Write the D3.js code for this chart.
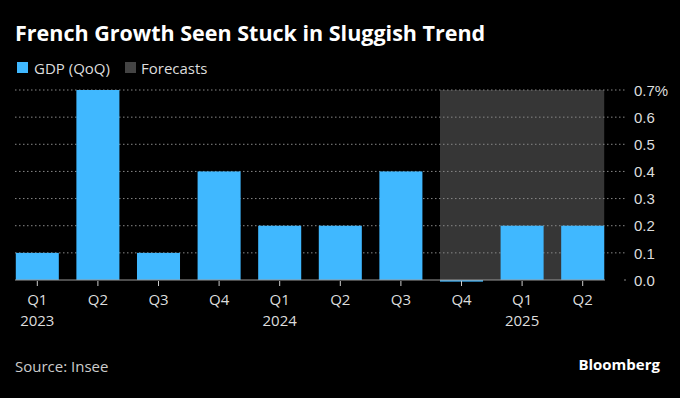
<!DOCTYPE html>
<html>
<head>
<meta charset="utf-8">
<script src="https://cdn.jsdelivr.net/npm/d3@7"></script>
<style>
  body { margin: 0; background: #000; }
  svg { display: block; font-family: "Open Sans", "Noto Sans", sans-serif; }
  .title { font-size: 21.5px; font-weight: 700; fill: #fff; }
  .legtext { font-size: 15px; fill: #ddd; }
  .axis text { font-size: 15px; fill: #ddd; }
  .source { font-size: 15px; fill: #ccc; }
  .brand { font-size: 15px; font-weight: 700; fill: #fff; }
</style>
</head>
<body>
<div id="main_div"></div>
<script>
/** data **/
const quarters = ["Q1", "Q2", "Q3", "Q4", "Q1", "Q2", "Q3", "Q4", "Q1", "Q2"];
const years = ["2023", "", "", "", "2024", "", "", "", "2025", ""];
const gdp = [0.1, 0.7, 0.1, 0.4, 0.2, 0.2, 0.4, -0.006, 0.2, 0.2];
const forecastFrom = 7, forecastTo = 9;
const yTicks = [0, 0.1, 0.2, 0.3, 0.4, 0.5, 0.6, 0.7];

const W = 680, H = 398;
const blue = "#40b8ff", shade = "#363636";

let svg = d3.select("#main_div").append("svg")
    .attr("width", W).attr("height", H);

svg.append("rect").attr("width", W).attr("height", H).attr("fill", "#000");

let idx = d3.range(gdp.length);
let xScale = d3.scaleBand().domain(idx).range([7, 613]).paddingInner(0.29).paddingOuter(0.145);
let yScale = d3.scaleLinear().domain([0, 0.7]).range([280, 90]);

/** forecast shading **/
svg.append("rect")
    .attr("x", xScale(forecastFrom))
    .attr("y", yScale(0.7))
    .attr("width", xScale(forecastTo) + xScale.bandwidth() - xScale(forecastFrom))
    .attr("height", yScale(0) - yScale(0.7))
    .attr("fill", shade);

/** gridlines **/
svg.append("g").selectAll("line")
    .data(yTicks.filter(d => d > 0))
    .enter().append("line")
    .attr("x1", 15).attr("x2", 626)
    .attr("y1", d => yScale(d)).attr("y2", d => yScale(d))
    .attr("stroke", "#888").attr("stroke-width", 1)
    .attr("stroke-dasharray", "1.5,2.5");

/** bars **/
svg.append("g").selectAll("rect")
    .data(gdp)
    .enter().append("rect")
    .attr("x", (d, i) => xScale(i))
    .attr("y", d => yScale(Math.max(0, d)))
    .attr("width", xScale.bandwidth())
    .attr("height", d => Math.abs(yScale(d) - yScale(0)))
    .attr("fill", blue);

/** zero line **/
svg.append("line")
    .attr("x1", 15).attr("x2", 605)
    .attr("y1", yScale(0)).attr("y2", yScale(0))
    .attr("stroke", "#999").attr("stroke-width", 1);
svg.append("line")
    .attr("x1", 624).attr("x2", 626)
    .attr("y1", yScale(0)).attr("y2", yScale(0))
    .attr("stroke", "#888");

/** x axis **/
let xg = svg.append("g").attr("class", "axis");
xg.selectAll("line")
    .data(idx).enter().append("line")
    .attr("x1", i => xScale(i) + xScale.bandwidth() / 2)
    .attr("x2", i => xScale(i) + xScale.bandwidth() / 2)
    .attr("y1", 281).attr("y2", 286)
    .attr("stroke", "#ccc");
xg.selectAll("text.q")
    .data(idx).enter().append("text")
    .attr("class", "q")
    .attr("x", i => xScale(i) + xScale.bandwidth() / 2)
    .attr("y", 305)
    .attr("text-anchor", "middle")
    .text(i => quarters[i]);
xg.selectAll("text.yr")
    .data(idx.filter(i => years[i])).enter().append("text")
    .attr("class", "yr")
    .attr("x", i => xScale(i) + xScale.bandwidth() / 2)
    .attr("y", 326)
    .attr("text-anchor", "middle")
    .text(i => years[i]);

/** y axis **/
let yAxis = d3.axisRight(yScale).tickValues(yTicks).tickSize(0).tickPadding(0)
    .tickFormat((d, i) => d3.format(".1f")(d) + (d === 0.7 ? "%" : ""));
let yg = svg.append("g").attr("class", "axis")
    .attr("transform", "translate(634,0)")
    .call(yAxis);
yg.select(".domain").remove();
yg.selectAll("text").attr("dy", "0.35em");

/** title, legend, footer **/
svg.append("text").attr("class", "title").attr("x", 15).attr("y", 41)
    .text("French Growth Seen Stuck in Sluggish Trend");

svg.append("rect").attr("x", 17).attr("y", 62).attr("width", 11).attr("height", 11).attr("fill", blue);
svg.append("text").attr("class", "legtext").attr("x", 34).attr("y", 74).text("GDP (QoQ)");
svg.append("rect").attr("x", 125).attr("y", 62).attr("width", 11).attr("height", 11).attr("fill", "#444");
svg.append("text").attr("class", "legtext").attr("x", 141).attr("y", 74).text("Forecasts");

svg.append("text").attr("class", "source").attr("x", 15).attr("y", 372).text("Source: Insee");
svg.append("text").attr("class", "brand").attr("x", 660).attr("y", 370)
    .attr("text-anchor", "end").text("Bloomberg");
</script>
</body>
</html>
